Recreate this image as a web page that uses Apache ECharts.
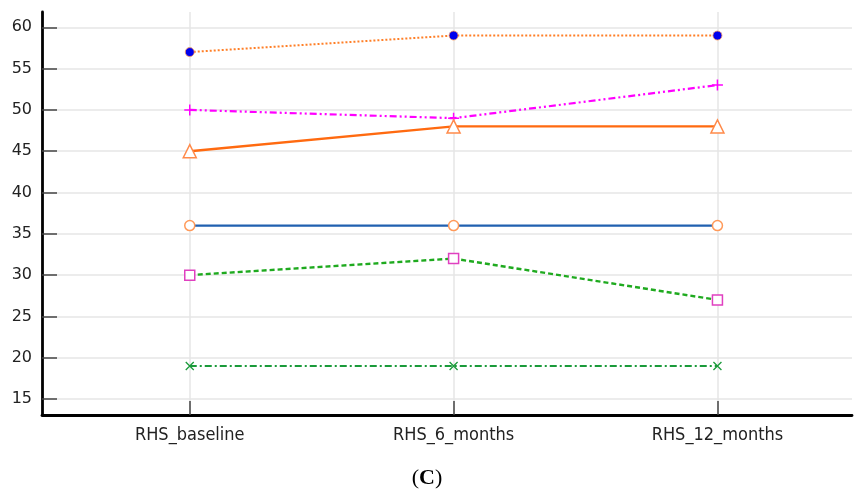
<!DOCTYPE html>
<html><head><meta charset="utf-8">
<script src="https://cdn.jsdelivr.net/npm/echarts@6/dist/echarts.min.js"></script>
<style>html,body{margin:0;padding:0;background:#fff}#c{width:854px;height:495px}</style>
</head><body><div id="c"></div>
<script>
const categories = ['RHS_baseline', 'RHS_6_months', 'RHS_12_months'];
const yTicks = [15, 20, 25, 30, 35, 40, 45, 50, 55, 60];
const s1 = [57, 59, 59];
const s2 = [50, 49, 53];
const s3 = [45, 48, 48];
const s4 = [36, 36, 36];
const s5 = [30, 32, 27];
const s6 = [19, 19, 19];

const plus = 'path://M0,-5L0,5M-5,0L5,0';
const cross = 'path://M-5,-5L5,5M-5,5L5,-5';
const toXY = arr => arr.map((v, i) => [i, v]);

const chart = echarts.init(document.getElementById('c'));
chart.setOption({
  animation: false,
  grid: { left: 42, right: 2, top: 12, bottom: 80, containLabel: false },
  title: {
    text: '({b|C})', left: 'center', top: 462,
    textStyle: { fontFamily: 'Liberation Serif', fontSize: 22, fontWeight: 'normal', color: '#000',
      rich: { b: { fontFamily: 'Liberation Serif', fontSize: 22, fontWeight: 'bold', color: '#000' } } }
  },
  xAxis: {
    type: 'value', min: -0.56, max: 2.51,
    axisLine: { show: true, onZero: false, lineStyle: { color: '#000', width: 2.8 } },
    axisTick: { show: true, inside: true, length: 14, customValues: [0, 1, 2], lineStyle: { color: '#444', width: 1.5 } },
    axisLabel: { customValues: [0, 1, 2], formatter: v => categories[Math.round(v)] || '', margin: 11,
      fontFamily: 'DejaVu Sans Condensed', fontSize: 18, color: '#222' },
    splitLine: { show: true, lineStyle: { color: '#e6e6e6', width: 1.5 } }
  },
  yAxis: {
    type: 'value', min: 13.07, max: 61.85,
    axisLine: { show: true, onZero: false, lineStyle: { color: '#000', width: 2.8 } },
    axisTick: { show: true, inside: true, length: 15, customValues: yTicks, lineStyle: { color: '#444', width: 1.5 } },
    axisLabel: { customValues: yTicks, margin: 10, fontFamily: 'DejaVu Sans', fontSize: 16, color: '#222' },
    splitLine: { show: true, lineStyle: { color: '#e6e6e6', width: 1.5 } }
  },
  series: [
    { type: 'line', data: toXY(s1), symbol: 'circle', symbolSize: 9,
      lineStyle: { color: '#ff7f27', width: 2, type: [2, 2] },
      itemStyle: { color: '#0000ee', borderColor: '#ff9a5a', borderWidth: 0.8 } },
    { type: 'line', data: toXY(s2), symbol: plus, symbolSize: 11, symbolKeepAspect: true,
      lineStyle: { color: '#ff00ff', width: 2.2, type: [7, 3, 2, 3, 2, 3] },
      itemStyle: { color: 'transparent', borderColor: '#ff00ff', borderWidth: 1.5 } },
    { type: 'line', data: toXY(s3), symbol: 'triangle', symbolSize: 13,
      lineStyle: { color: '#ff6a10', width: 2.4, type: 'solid' },
      itemStyle: { color: '#fff', borderColor: '#ff8a4a', borderWidth: 1.5 } },
    { type: 'line', data: toXY(s4), symbol: 'circle', symbolSize: 10,
      lineStyle: { color: '#2060b0', width: 2.2, type: 'solid' },
      itemStyle: { color: '#fff', borderColor: '#ff9a5a', borderWidth: 1.5 } },
    { type: 'line', data: toXY(s5), symbol: 'rect', symbolSize: 10,
      lineStyle: { color: '#1faa1f', width: 2.4, type: [5, 3] },
      itemStyle: { color: '#fff', borderColor: '#e040c0', borderWidth: 1.5 } },
    { type: 'line', data: toXY(s6), symbol: cross, symbolSize: 8, symbolKeepAspect: true,
      lineStyle: { color: '#1a9a3a', width: 1.8, type: [7, 3, 2, 3] },
      itemStyle: { color: 'transparent', borderColor: '#1a9a3a', borderWidth: 1.3 } }
  ]
});
</script></body></html>
